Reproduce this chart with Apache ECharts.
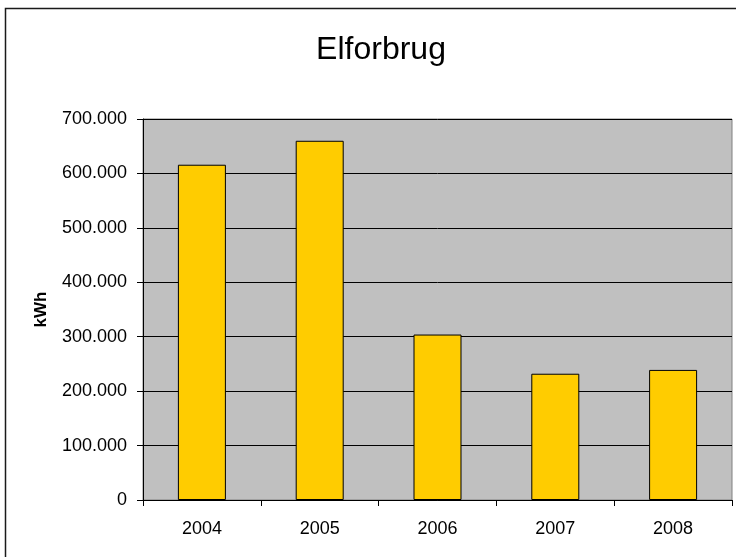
<!DOCTYPE html>
<html>
<head>
<meta charset="utf-8">
<script src="https://cdn.jsdelivr.net/npm/echarts@6/dist/echarts.min.js"></script>
<style>
html,body{margin:0;padding:0;background:#fff;}
#chart{width:736px;height:557px;}
</style>
</head>
<body>
<div id="chart"></div>
<script>
const titleText = 'Elforbrug';
const yAxisName = 'kWh';
const categories = ['2004', '2005', '2006', '2007', '2008'];
const consumption = [616000, 660000, 304000, 232000, 239000];

function fmt(v) {
  return String(v).replace(/\B(?=(\d{3})+(?!\d))/g, '.');
}

const chart = echarts.init(document.getElementById('chart'), null, {renderer: 'canvas'});
chart.setOption({
  animation: false,
  backgroundColor: '#ffffff',
  textStyle: {fontFamily: 'Liberation Sans, Arial, sans-serif'},
  title: {
    text: titleText,
    left: 376,
    top: 29,
    textAlign: 'center',
    textStyle: {fontFamily: 'Liberation Sans, Arial, sans-serif', fontSize: 32, fontWeight: 'normal', color: '#000'}
  },
  graphic: [{
    type: 'rect',
    shape: {x: 5.5, y: 8.5, width: 800, height: 700},
    style: {fill: 'none', stroke: '#1a1a1a', lineWidth: 1.5},
    silent: true,
    z: 100
  }],
  grid: {
    left: 143, right: 4, top: 119, bottom: 57,
    show: true,
    backgroundColor: '#C0C0C0',
    borderColor: '#808080',
    borderWidth: 1
  },
  xAxis: {
    type: 'category',
    data: categories,
    boundaryGap: true,
    axisLine: {lineStyle: {color: '#000', width: 1}},
    axisTick: {show: true, alignWithLabel: false, length: 6, lineStyle: {color: '#000'}},
    axisLabel: {color: '#000', fontSize: 18, margin: 20, fontFamily: 'Liberation Sans, Arial, sans-serif'}
  },
  yAxis: {
    type: 'value',
    min: 0, max: 700000, interval: 100000,
    name: yAxisName,
    nameLocation: 'middle',
    nameGap: 93,
    nameTextStyle: {fontSize: 17, fontWeight: 'bold', color: '#000', fontFamily: 'Liberation Sans, Arial, sans-serif'},
    axisLine: {show: true, lineStyle: {color: '#000', width: 1}},
    axisTick: {show: true, length: 6, lineStyle: {color: '#000'}},
    axisLabel: {color: '#000', fontSize: 18, margin: 16, formatter: fmt, fontFamily: 'Liberation Sans, Arial, sans-serif'},
    splitLine: {show: true, lineStyle: {color: '#000', width: 1}}
  },
  series: [{
    type: 'bar',
    data: consumption,
    barWidth: 48,
    itemStyle: {color: '#FFCC00', borderColor: '#000', borderWidth: 1}
  }]
});
</script>
</body>
</html>
